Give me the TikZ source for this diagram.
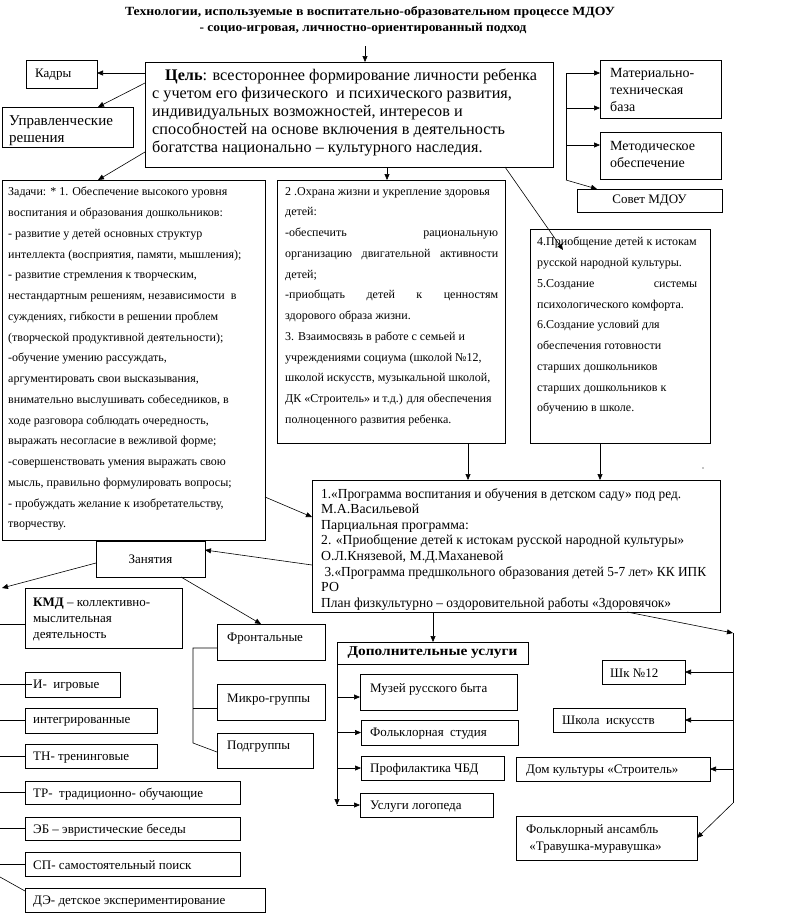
\documentclass[tikz,border=0pt]{standalone}
\usepackage{fontspec}
\usepackage{graphicx}
\setmainfont{Liberation Serif}
\usetikzlibrary{arrows.meta,calc}
\newsavebox\fitbox
\newlength\fitlen
\newcommand\fitx[2]{\sbox\fitbox{#2}\fitlen=\wd\fitbox\pgfmathsetmacro\fitfac{#1/\fitlen}\scalebox{\fitfac}[1]{\usebox\fitbox}}
\newcommand\fA{\fontsize{13}{16}\selectfont}
\newcommand\fB{\fontsize{12}{20.75}\selectfont}
\newcommand\fG{\fontsize{16.2}{18}\selectfont}
\newcommand\fP{\fontsize{13.8}{15.6}\selectfont}
\tikzset{
  bx/.style={draw, line width=0.8pt, anchor=north west, inner sep=0pt, outer sep=0pt},
  txt/.style={anchor=north west, inner sep=0pt, align=left},
  ltxt/.style={anchor=west, inner sep=0pt, font=\fA, yshift=-1.5pt},
  arr/.style={-{Triangle[length=6pt,width=5pt]}, line width=0.6pt},
  ln/.style={line width=0.6pt},
}
\begin{document}
\begin{tikzpicture}[x=1pt,y=-1pt]
\fill[white] (0,0) rectangle (794,913);
\useasboundingbox (0,0) rectangle (794,913);

% title
\node[inner sep=0pt, font=\fontsize{12.5}{14}\bfseries\selectfont] (t1) at (370,12) {\fitx{490}{Технологии, используемые в воспитательно-образовательном процессе МДОУ}};
\node[inner sep=0pt, font=\fontsize{12.5}{14}\bfseries\selectfont] (t2) at (363,29) {\fitx{327}{- социо-игровая, личностно-ориентированный подход}};

% goal
\node[bx, minimum width=408pt, minimum height=105pt] (goal) at (145,62) {};
\coordinate (tarr) at (365,46);
\draw[arr] (tarr) -- (tarr |- goal.north);
\node[txt, font=\fG] (goaltxt) at (152,69) {\hspace*{13pt}\textbf{Цель}: всестороннее формирование личности ребенка\\
с учетом его физического\ \ и психического развития,\\
индивидуальных возможностей, интересов и\\
способностей на основе включения в деятельность\\
богатства национально – культурного наследия.};

% left top boxes
\node[bx, minimum width=71pt, minimum height=28pt] (kadry) at (26,60) {};
\node[ltxt] (kadrytxt) at (35,73) {Кадры};
\coordinate (kadryarr) at (97,73);
\draw[arr] (goal.west |- kadryarr) -- (kadry.east |- kadryarr);

\node[bx, minimum width=131pt, minimum height=40pt] (upr) at (2,107) {};
\node[txt, font=\fontsize{15}{17}\selectfont] (uprtxt) at (9,115.5) {Управленческие\\решения};
\coordinate (g1) at ($(goal.north west)+(0,21)$);
\draw[arr] (g1) -- ($(upr.north west)+(96,0)$);

% right top
\node[bx, minimum width=121pt, minimum height=58pt] (mat) at (600,60) {};
\node[txt, font=\fontsize{14}{17}\selectfont] (mattxt) at (610,68) {Материально-\\техническая\\база};
\node[bx, minimum width=121pt, minimum height=47pt] (met) at (600,132) {};
\node[txt, font=\fontsize{14}{17}\selectfont] (mettxt) at (610,141) {Методическое\\обеспечение};
\node[bx, minimum width=145pt, minimum height=23pt, font=\fA] (sovet) at (577,189) {Совет МДОУ};
\coordinate (rtop) at (566,73);
\coordinate (rm1) at (566,108);
\coordinate (rm2) at (566,145);
\coordinate (rbot) at (566,180);
\draw[ln] (rtop) -- (rbot);
\draw[arr] (rtop) -- (rtop -| mat.west);
\draw[arr] (rm1) -- (rm1 -| mat.west);
\draw[arr] (rm2) -- (rm2 -| met.west);
\draw[arr] (rbot) -- ($(sovet.north west)+(20,0)$);

% box 1
\node[bx, minimum width=263pt, minimum height=360pt] (box1) at (2,180) {};
\node[txt, font=\fB] (box1txt) at (8,187) {Задачи: * 1. Обеспечение высокого уровня\\
воспитания и образования дошкольников:\\
- развитие у детей основных структур\\
интеллекта (восприятия, памяти, мышления);\\
- развитие стремления к творческим,\\
нестандартным решениям, независимости\ \ в\\
суждениях, гибкости в решении проблем\\
(творческой продуктивной деятельности);\\
-обучение умению рассуждать,\\
аргументировать свои высказывания,\\
внимательно выслушивать собеседников, в\\
ходе разговора соблюдать очередность,\\
выражать несогласие в вежливой форме;\\
-совершенствовать умения выражать свою\\
мысль, правильно формулировать вопросы;\\
- пробуждать желание к изобретательству,\\
творчеству.};
\draw[arr] ($(goal.north west)+(0,90)$) -- ($(box1.north west)+(96,0)$);

% box 2
\node[bx, minimum width=228pt, minimum height=263pt] (box2) at (277,180) {};
\node[txt, font=\fB] (box2txt) at (285,187) {2 .Охрана жизни и укрепление здоровья\\
детей:\\
\makebox[213pt][s]{-обеспечить рациональную}\\
\makebox[213pt][s]{организацию двигательной активности}\\
детей;\\
\makebox[213pt][s]{-приобщать детей к ценностям}\\
здорового образа жизни.\\
3. Взаимосвязь в работе с семьей и\\
учреждениями социума (школой №12,\\
школой искусств, музыкальной школой,\\
ДК «Строитель» и т.д.) для обеспечения\\
полноценного развития ребенка.};
\coordinate (gb2) at ($(goal.south west)+(242,0)$);
\draw[arr] (gb2) -- (gb2 |- box2.north);

% box 3
\node[bx, minimum width=180pt, minimum height=214pt] (box3) at (530,229) {};
\node[txt, font=\fB] (box3txt) at (537,237) {4.Приобщение детей к истокам\\
русской народной культуры.\\
\makebox[160pt][s]{5.Создание системы}\\
психологического комфорта.\\
6.Создание условий для\\
обеспечения готовности\\
старших дошкольников\\
старших дошкольников к\\
обучению в школе.};
\draw[arr] ($(goal.south east)+(-48,0)$) -- ($(box3.north west)+(33,21)$);

% program
\node[bx, minimum width=408pt, minimum height=132pt] (prog) at (312,480) {};
\node[txt, font=\fP] (progtxt) at (321,488) {\fitx{360}{1.«Программа воспитания и обучения в детском саду» под ред.}\\
М.А.Васильевой\\
Парциальная программа:\\
\fitx{363}{2. «Приобщение детей к истокам русской народной культуры»}\\
О.Л.Князевой, М.Д.Маханевой\\
\fitx{385}{\ 3.«Программа предшкольного образования детей 5-7 лет» КК ИПК}\\
РО\\
\fitx{350}{План физкультурно – оздоровительной работы «Здоровячок»}};
\coordinate (b2s) at ($(box2.south west)+(191,0)$);
\draw[arr] (b2s) -- (b2s |- prog.north);
\coordinate (b3s) at ($(box3.south west)+(70,0)$);
\draw[arr] (b3s) -- (b3s |- prog.north);
\fill (703,468) circle (0.7pt);
\draw[arr] ($(box1.north east)+(0,317)$) -- ($(prog.north west)+(0,37)$);

% Занятия
\node[bx, minimum width=109pt, minimum height=36pt, font=\fA, anchor=north west] (zan) at (96,541) {Занятия};
\draw[arr] ($(prog.north west)+(0,85)$) -- ($(zan.north east)+(0,9)$);
\coordinate (zanl) at ($(zan.north west)+(0,22)$);
\coordinate (zanltip) at (2,588);
\draw[arr] (zanl) -- (zanltip);

% KMD and list
\node[bx, minimum width=157pt, minimum height=60pt] (kmd) at (25,588) {};
\node[txt, font=\fA] (kmdtxt) at (33,597.5) {\textbf{КМД} – коллективно-\\мыслительная\\деятельность};
\coordinate (lk) at (0,624);
\draw[ln] (lk) -- (lk -| kmd.west);

\node[bx, minimum width=95pt, minimum height=25pt] (igr) at (25,672) {};
\node[ltxt] (igrtxt) at (33,684.5) {И-\ \ игровые};
\coordinate (ligr) at (0,684.5);
\coordinate (ligrend) at (32,684.5);
\draw[ln] (ligr) -- (ligrend);

\node[bx, minimum width=132pt, minimum height=25pt] (integ) at (25,708) {};
\node[ltxt] (integtxt) at (33,720.5) {интегрированные};
\coordinate (linteg) at (0,720.5);
\draw[ln] (linteg) -- (integ.west);

\node[bx, minimum width=132pt, minimum height=24pt] (tn) at (25,744) {};
\node[ltxt] (tntxt) at (33,756) {ТН- тренинговые};
\coordinate (ltn) at (0,756);
\draw[ln] (ltn) -- (tn.west);

\node[bx, minimum width=215pt, minimum height=23pt] (tr) at (25,781) {};
\node[ltxt] (trtxt) at (33,792.5) {ТР-\ \ традиционно- обучающие};
\coordinate (ltr) at (0,792.5);
\draw[ln] (ltr) -- (tr.west);

\node[bx, minimum width=215pt, minimum height=23pt] (eb) at (25,817) {};
\node[ltxt] (ebtxt) at (33,828.5) {ЭБ – эвристические беседы};
\coordinate (leb) at (0,828.5);
\draw[ln] (leb) -- (eb.west);

\node[bx, minimum width=215pt, minimum height=24pt] (sp) at (25,852) {};
\node[ltxt] (sptxt) at (33,864) {СП- самостоятельный поиск};
\coordinate (lsp) at (0,864);
\draw[ln] (lsp) -- (sp.west);

\node[bx, minimum width=240pt, minimum height=24pt] (de) at (25,888) {};
\node[ltxt] (detxt) at (33,900) {ДЭ- детское экспериментирование};
\coordinate (lde) at (0,877);
\draw[ln] (lde) -- ($(de.north west)+(0,3)$);

% forms
\node[bx, minimum width=108pt, minimum height=36pt] (front) at (217,624) {};
\node[ltxt] (fronttxt) at (227,637) {Фронтальные};
\node[bx, minimum width=108pt, minimum height=36pt] (micro) at (217,684) {};
\node[ltxt] (microtxt) at (227,698) {Микро-группы};
\node[bx, minimum width=96pt, minimum height=35pt] (podgr) at (217,733) {};
\node[ltxt] (podgrtxt) at (227,745) {Подгруппы};
\draw[arr] ($(zan.south west)+(85,0)$) -- ($(front.north west)+(44,0)$);
\coordinate (brt) at (193,648);
\coordinate (brm) at (193,708);
\coordinate (brb) at (193,743);
\draw[ln] (brt -| front.west) -- (brt) -- (brb) -- ($(podgr.north west)+(0,19)$);
\draw[ln] (brm) -- (brm -| micro.west);

% additional services
\node[bx, minimum width=191pt, minimum height=22pt, font=\fontsize{13.5}{14}\bfseries\selectfont] (dop) at (337,642) {\fitx{170}{Дополнительные услуги}};
\coordinate (pd) at ($(prog.south west)+(121,0)$);
\draw[arr] (pd) -- (pd |- dop.north);
\coordinate (dopbot) at (337,805);
\draw[arr] (dop.north west) -- (dopbot);

\node[bx, minimum width=157pt, minimum height=36pt] (muz) at (360,674) {};
\node[ltxt] (muztxt) at (370,688) {Музей русского быта};
\node[bx, minimum width=157pt, minimum height=25pt] (folk) at (361,720) {};
\node[ltxt] (folktxt) at (370,732.5) {Фольклорная\ \ студия};
\node[bx, minimum width=143pt, minimum height=24pt] (prof) at (361,756) {};
\node[ltxt] (proftxt) at (370,768) {Профилактика ЧБД};
\node[bx, minimum width=133pt, minimum height=24pt] (logo) at (360,793) {};
\node[ltxt] (logotxt) at (370,805) {Услуги логопеда};
\coordinate (muzt) at ($(muz.north west)+(0,23)$);
\draw[arr] (dop.west |- muzt) -- (muzt);
\draw[arr] (dop.west |- folk.west) -- (folk.west);
\draw[arr] (dop.west |- prof.west) -- (prof.west);
\draw[arr] (dop.west |- logo.west) -- (logo.west);

% partners
\node[bx, minimum width=83pt, minimum height=24pt] (sh12) at (602,660) {};
\node[ltxt] (sh12txt) at (610,672) {Шк №12};
\node[bx, minimum width=132pt, minimum height=24pt] (shi) at (553,708) {};
\node[ltxt] (shitxt) at (562,720) {Школа\ \ искусств};
\node[bx, minimum width=194pt, minimum height=24pt] (dom) at (516,757) {};
\node[ltxt] (domtxt) at (526,769) {Дом культуры «Строитель»};
\node[bx, minimum width=181pt, minimum height=44pt] (fans) at (516,816) {};
\node[txt, font=\fontsize{13}{17}\selectfont] (fanstxt) at (526,824) {Фольклорный ансамбль\\\ «Травушка-муравушка»};
\coordinate (rv1) at (733,633);
\coordinate (rv2) at (733,803);
\draw[arr] ($(prog.south west)+(315,0)$) -- (rv1);
\draw[ln] (rv1) -- (rv2);
\draw[arr] (rv1 |- sh12.east) -- (sh12.east);
\draw[arr] (rv1 |- shi.east) -- (shi.east);
\draw[arr] (rv1 |- dom.east) -- (dom.east);
\draw[arr] (rv2) -- ($(fans.north east)+(0,22)$);
\end{tikzpicture}
\end{document}
